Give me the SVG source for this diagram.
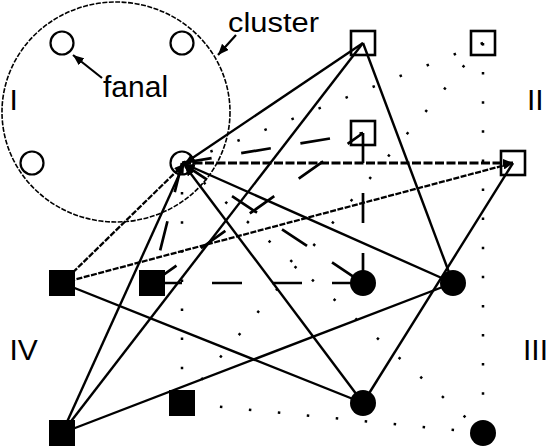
<svg xmlns="http://www.w3.org/2000/svg" width="548" height="446" viewBox="0 0 548 446">
<defs>
<marker id="ah" markerUnits="userSpaceOnUse" markerWidth="10" markerHeight="8" refX="10" refY="4" orient="auto"><path d="M0,0 L10,4 L0,8 z" fill="#000"/></marker>
<marker id="lab" markerUnits="userSpaceOnUse" markerWidth="11" markerHeight="9" refX="11" refY="4.5" orient="auto"><path d="M0,0 L11,4.5 L0,9 z" fill="#000"/></marker>
</defs>
<style>
.solid{stroke:#000;stroke-width:2.4;fill:none}
.fine{stroke:#000;stroke-width:2.3;fill:none;stroke-dasharray:6 1.5}
.fineh{stroke:#000;stroke-width:2.8;fill:none;stroke-dasharray:9 2.5}
.long{stroke:#000;stroke-width:2.7;fill:none;stroke-dasharray:30 30}
.dot{stroke:#000;stroke-width:2.5;fill:none;stroke-dasharray:2.5 26.6}
.osq{fill:none;stroke:#000;stroke-width:2.6}
.fsq{fill:#000}
.fci{fill:#000}
.oci{fill:none;stroke:#000;stroke-width:2.2}
.lbl{font-family:"Liberation Sans",Arial,sans-serif;font-size:30px;fill:#000}
</style>
<g id="cluster">
<ellipse cx="116" cy="112" rx="114" ry="110" fill="none" stroke="#000" stroke-width="1.6" stroke-dasharray="5 1.5"/>
</g>
<g id="connectors">
<line class="dot" x1="483" y1="43" x2="182" y2="163"/>
<line class="dot" x1="483" y1="43" x2="182" y2="403"/>
<line class="dot" x1="483" y1="43" x2="483" y2="433"/>
<line class="dot" x1="182" y1="163" x2="483" y2="433"/>
<line class="dot" x1="483" y1="433" x2="182" y2="403"/>
<line class="dot" x1="182" y1="163" x2="182" y2="403"/>
<line class="solid" x1="363" y1="43" x2="185" y2="163" marker-end="url(#ah)"/>
<line class="solid" x1="62" y1="433" x2="363" y2="43"/>
<line class="solid" x1="363" y1="43" x2="453" y2="283"/>
<line class="solid" x1="513" y1="163" x2="363" y2="403"/>
<line class="solid" x1="453" y1="283" x2="185" y2="164" marker-end="url(#ah)"/>
<line class="solid" x1="363" y1="403" x2="185" y2="166" marker-end="url(#ah)"/>
<line class="solid" x1="62" y1="283" x2="363" y2="403"/>
<line class="solid" x1="62" y1="433" x2="453" y2="283"/>
<line class="solid" x1="62" y1="433" x2="184" y2="164" marker-end="url(#ah)"/>
<line class="fineh" x1="182" y1="163" x2="513" y2="163" marker-end="url(#ah)"/>
<line class="fine" x1="62" y1="283" x2="513" y2="163" marker-end="url(#ah)"/>
<line class="fine" x1="62" y1="283" x2="184" y2="164" marker-end="url(#ah)"/>
<line class="long" x1="182" y1="163" x2="363" y2="133"/>
<line class="long" x1="182" y1="163" x2="363" y2="283"/>
<line class="long" x1="182" y1="163" x2="152" y2="283"/>
<line class="long" x1="152" y1="283" x2="363" y2="133"/>
<line class="long" x1="363" y1="133" x2="363" y2="283"/>
<line class="long" x1="152" y1="283" x2="363" y2="283"/>
</g>
<g id="fanal-tl"><circle class="oci" cx="62" cy="43" r="11.5"/></g>
<g id="fanal-tr"><circle class="oci" cx="182" cy="43" r="11.5"/></g>
<g id="fanal-bl"><circle class="oci" cx="32" cy="163" r="11.5"/></g>
<g id="fanal-hub"><circle class="oci" cx="182" cy="163" r="11.5"/></g>
<g id="sq-top"><rect class="osq" x="351" y="31" width="24" height="24"/></g>
<g id="sq-topright"><rect class="osq" x="471" y="31" width="24" height="24"/></g>
<g id="sq-mid"><rect class="osq" x="351" y="121" width="24" height="24"/></g>
<g id="sq-right"><rect class="osq" x="501" y="151" width="24" height="24"/></g>
<g id="fsq-1"><rect class="fsq" x="49" y="270" width="26" height="26"/></g>
<g id="fsq-2"><rect class="fsq" x="139" y="270" width="26" height="26"/></g>
<g id="fsq-3"><rect class="fsq" x="169" y="390" width="26" height="26"/></g>
<g id="fsq-4"><rect class="fsq" x="49" y="420" width="26" height="26"/></g>
<g id="fci-1"><circle class="fci" cx="363" cy="283" r="13"/></g>
<g id="fci-2"><circle class="fci" cx="453" cy="283" r="13"/></g>
<g id="fci-3"><circle class="fci" cx="363" cy="403" r="13"/></g>
<g id="fci-4"><circle class="fci" cx="483" cy="433" r="13"/></g>
<g id="labels">
<text class="lbl" x="228" y="32" style="font-size:27px" textLength="91" lengthAdjust="spacingAndGlyphs">cluster</text>
<line x1="236" y1="35" x2="218" y2="55" stroke="#000" stroke-width="2.2" marker-end="url(#lab)"/>
<text class="lbl" x="103" y="97">fanal</text>
<line x1="102" y1="78" x2="73" y2="55" stroke="#000" stroke-width="2.2" marker-end="url(#lab)"/>
<text class="lbl" x="9.5" y="110">I</text>
<text class="lbl" x="527" y="110">II</text>
<text class="lbl" x="523" y="360">III</text>
<text class="lbl" x="9.5" y="360">IV</text>
</g>
</svg>
